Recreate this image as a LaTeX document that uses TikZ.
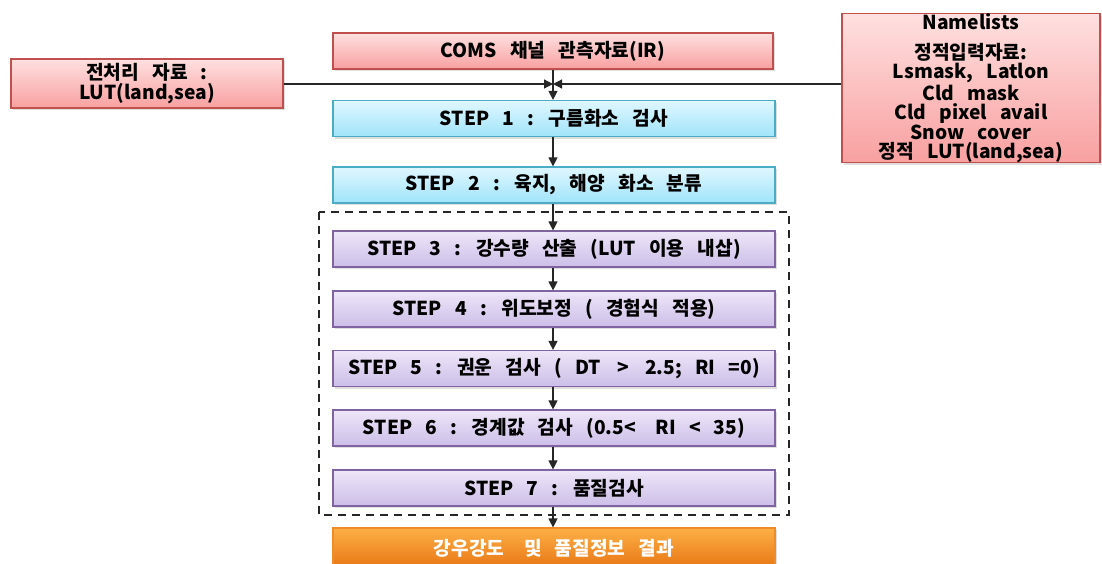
\documentclass[tikz,border=0pt]{standalone}
\usepackage{fontspec}
\setmainfont{Noto Sans CJK KR}[WordSpace=3]
\usetikzlibrary{arrows.meta,shadows}
\definecolor{redtop}{RGB}{255,224,224}
\definecolor{redbot}{RGB}{248,160,160}
\definecolor{redline}{RGB}{192,80,77}
\definecolor{cyantop}{RGB}{224,247,255}
\definecolor{cyanbot}{RGB}{160,228,250}
\definecolor{cyanline}{RGB}{75,172,198}
\definecolor{purtop}{RGB}{238,230,248}
\definecolor{purbot}{RGB}{204,190,232}
\definecolor{purline}{RGB}{128,100,162}
\definecolor{ortop}{RGB}{252,176,70}
\definecolor{orbot}{RGB}{232,118,20}
\definecolor{orline}{RGB}{240,140,40}
\tikzset{
  boxbase/.style={draw, line width=0.6pt, align=center, inner sep=1pt,
    font=\fontsize{9.6}{9.6}\selectfont\bfseries,
    drop shadow={opacity=0.25, shadow xshift=1pt, shadow yshift=-1pt}},
  redbox/.style={boxbase, draw=redline, top color=redtop, bottom color=redbot},
  cyanbox/.style={boxbase, draw=cyanline, top color=cyantop, bottom color=cyanbot,
    minimum width=221pt, minimum height=18pt},
  purbox/.style={boxbase, draw=purline, top color=purtop, bottom color=purbot,
    minimum width=221pt, minimum height=18pt},
  orbox/.style={boxbase, draw=orline, top color=ortop, bottom color=orbot,
    minimum width=221pt, minimum height=20pt, text=white},
  arr/.style={draw=black!85, line width=0.6pt, -{Triangle[length=4.5pt,width=4.5pt]}},
  dashbox/.style={draw=black!85, line width=1pt, dash pattern=on 4pt off 3pt}
}
\begin{document}
\begin{tikzpicture}[x=0.5pt,y=-0.5pt]
\clip (0,0) rectangle (1102,563);
\useasboundingbox (0,0) rectangle (1102,563);
\fill[white] (0,0) rectangle (1102,563);

\node[redbox, minimum width=220pt, minimum height=18pt] (coms) at (553,51) {COMS 채널 관측자료(IR)};
\node[redbox, minimum width=136pt, minimum height=24.5pt] (lut) at (147,83.5) {전처리 자료 :\\LUT(land,sea)};
\node[redbox, minimum width=129pt, minimum height=72.5pt, anchor=north, inner sep=0pt] (nml) at (971,13)
  {Namelists\\[5.5pt]정적입력자료:\\Lsmask, Latlon\\Cld mask\\Cld pixel avail\\Snow cover\\정적 LUT(land,sea)};

\coordinate (j) at (553,84);

\node[cyanbox] (s1) at (554,118.5) {STEP 1 : 구름화소 검사};
\node[cyanbox] (s2) at (554,185) {STEP 2 : 육지, 해양 화소 분류};
\node[purbox] (s3) at (554,249) {STEP 3 : 강수량 산출 (LUT 이용 내삽)};
\node[purbox] (s4) at (554,309) {STEP 4 : 위도보정 ( 경험식 적용)};
\node[purbox] (s5) at (554,368.5) {STEP 5 : 권운 검사 ( DT \,>\, 2.5; RI =0)};
\node[purbox] (s6) at (554,428) {STEP 6 : 경계값 검사 (0.5<\,\, RI < 35)};
\node[purbox] (s7) at (554,488) {STEP 7 : 품질검사};
\node[orbox] (res) at (554,548) {강우강도\,\, 및 품질정보 결과};

\draw[dashbox] (319,212) rectangle (789,515);

\draw[arr] (lut.east |- j) -- (j);
\draw[arr] (nml.west |- j) -- (j);
\draw[arr] (coms.south -| j) -- (s1.north -| j);
\draw[arr] (s1.south -| j) -- (s2.north -| j);
\draw[arr] (s2.south -| j) -- (s3.north -| j);
\draw[arr] (s3.south -| j) -- (s4.north -| j);
\draw[arr] (s4.south -| j) -- (s5.north -| j);
\draw[arr] (s5.south -| j) -- (s6.north -| j);
\draw[arr] (s6.south -| j) -- (s7.north -| j);
\draw[arr] (s7.south -| j) -- (res.north -| j);
\end{tikzpicture}
\end{document}
